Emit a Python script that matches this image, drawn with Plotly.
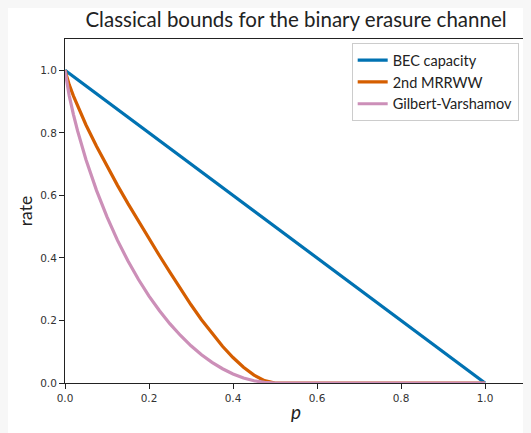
import plotly.graph_objects as go

# ---- data ----
p_bec = [0.0, 1.0]
rate_bec = [1.0, 0.0]

p_grid = [0.0, 0.005, 0.01, 0.02, 0.03, 0.05, 0.075, 0.1, 0.125, 0.15, 0.175, 0.2,
          0.225, 0.25, 0.275, 0.3, 0.325, 0.35, 0.375, 0.4, 0.425, 0.45, 0.475,
          0.5, 1.0]
rate_mrrw = [1.0, 0.975, 0.954, 0.918, 0.885, 0.825, 0.757, 0.692, 0.632, 0.5735,
             0.5166, 0.461, 0.407, 0.354, 0.301, 0.2502, 0.2025, 0.1581, 0.1176,
             0.0815, 0.0504, 0.0253, 0.0076, 0.0, 0.0]
rate_gv = [1.0, 0.955, 0.919, 0.859, 0.806, 0.714, 0.616, 0.531, 0.456, 0.390,
           0.331, 0.278, 0.231, 0.189, 0.152, 0.119, 0.0905, 0.066, 0.0456, 0.029,
           0.0162, 0.0072, 0.0018, 0.0, 0.0]

names = ["BEC capacity", "2nd MRRWW", "Gilbert-Varshamov"]
colors = ["#0072B2", "#D55E00", "#CC8FB8"]
tick_vals = [0.0, 0.2, 0.4, 0.6, 0.8, 1.0]
tick_text = ["0.0", "0.2", "0.4", "0.6", "0.8", "1.0"]

fig = go.Figure()
fig.add_trace(go.Scatter(x=p_bec, y=rate_bec, mode="lines", name=names[0],
                         line=dict(color=colors[0], width=3.2)))
fig.add_trace(go.Scatter(x=p_grid, y=rate_mrrw, mode="lines", name=names[1],
                         line=dict(color=colors[1], width=3.2)))
fig.add_trace(go.Scatter(x=p_grid, y=rate_gv, mode="lines", name=names[2],
                         line=dict(color=colors[2], width=3.2)))

axis_common = dict(
    showline=True, linecolor="#222222", linewidth=1, mirror=True,
    ticks="outside", ticklen=5, tickwidth=1, tickcolor="#222222",
    showgrid=False, zeroline=False,
    tickfont=dict(family="DejaVu Sans", size=10.5, color="#333333"),
    tickvals=tick_vals, ticktext=tick_text,
)

fig.update_layout(
    width=523, height=425,
    margin=dict(l=57, r=4, t=31, b=50),
    paper_bgcolor="white",
    plot_bgcolor="white",
    title=dict(text="Classical bounds for the binary erasure channel",
               x=0.5, xref="paper", xanchor="center",
               y=1 - 12 / 425, yref="container", yanchor="middle",
               font=dict(family="Lato", size=20.5, color="#222222")),
    xaxis=dict(range=[0, 1.1], **axis_common,
               title=dict(text="<i>p</i>", standoff=3,
                          font=dict(family="Lato", size=19, color="#222222"))),
    yaxis=dict(range=[0, 1.1], **axis_common,
               title=dict(text="rate", standoff=3,
                          font=dict(family="Lato", size=17.5, color="#222222"))),
    legend=dict(x=0.982, y=0.988, xanchor="right", yanchor="top",
                bgcolor="white", bordercolor="#cccccc", borderwidth=1,
                font=dict(family="Lato", size=14.5, color="#222222"),
                tracegroupgap=0, itemwidth=30),
    showlegend=True,
)

fig.write_html("out.html",
               post_script="document.body.style.background='#f7f7f7';")
